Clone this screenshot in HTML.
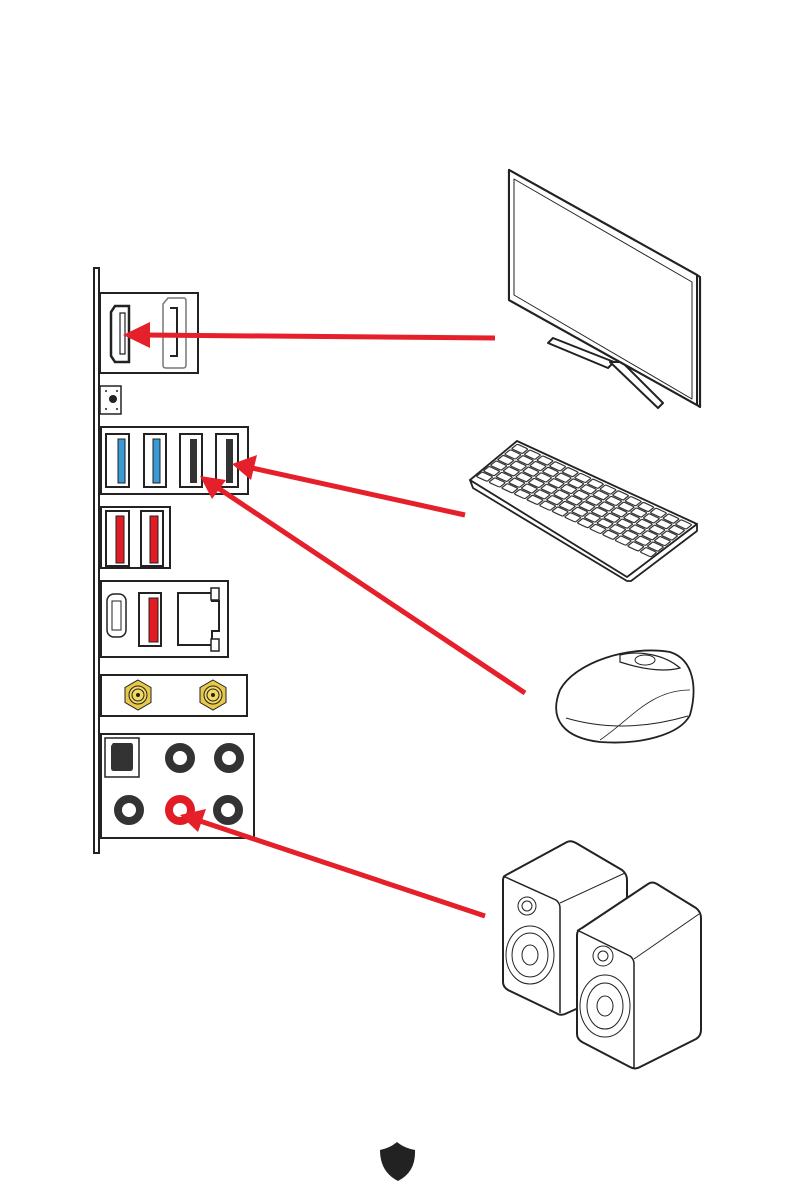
<!DOCTYPE html>
<html><head><meta charset="utf-8"><style>
html,body{margin:0;padding:0;background:#fff;width:794px;height:1191px;overflow:hidden}
svg{display:block}
</style></head><body>
<svg width="794" height="1191" viewBox="0 0 794 1191" xmlns="http://www.w3.org/2000/svg" xmlns:xlink="http://www.w3.org/1999/xlink" font-family="Liberation Sans, sans-serif">
<defs>
<rect id="k" width="6" height="12.5" rx="1.2" fill="none" stroke="#333" stroke-width="1.2" vector-effect="non-scaling-stroke"/>
<g id="row">
<use href="#k" x="1.5"/><use href="#k" x="8.5"/><use href="#k" x="15.5"/><use href="#k" x="22.5"/><use href="#k" x="29.5"/><use href="#k" x="36.5"/><use href="#k" x="43.5"/><use href="#k" x="50.5"/><use href="#k" x="57.5"/><use href="#k" x="64.5"/><use href="#k" x="71.5"/><use href="#k" x="78.5"/><use href="#k" x="85.5"/><use href="#k" x="92.5"/>
</g>
</defs>
<rect x="94" y="268" width="5" height="585" fill="#fff" stroke="#222" stroke-width="2"/>
<g fill="#fff" stroke="#222" stroke-width="2">
<rect x="100" y="293" width="98" height="80"/>
<path d="M115 306 H129 V362 H115 L111 356 V312 Z" stroke-width="2.5"/>
<path d="M120 313 H125 V354 H120 Z" stroke-width="1.2"/>
<path d="M168 298 H184 Q186 298 186 301 V365 Q186 368 183 368 H166 Q163 368 163 365 V304 Z" stroke="#777" stroke-width="1.5"/>
<path d="M170 308 H177 V356 H170" stroke-width="2"/>
<rect x="100" y="386" width="21" height="28" stroke-width="1.5"/>
<rect x="101" y="427" width="147" height="67"/>
<rect x="106" y="434" width="23" height="53"/>
<rect x="144" y="434" width="22" height="53"/>
<rect x="180" y="434" width="22" height="53"/>
<rect x="216" y="434" width="22" height="53"/>
<rect x="101" y="507" width="69" height="61"/>
<rect x="106" y="511" width="23" height="55"/>
<rect x="141" y="511" width="22" height="55"/>
<rect x="101" y="581" width="127" height="76"/>
<rect x="107" y="594" width="19" height="43" rx="7" stroke-width="1.5"/>
<rect x="112" y="601" width="9" height="29" stroke-width="1"/>
<rect x="139" y="593" width="22" height="53"/>
<path d="M178 593 H212 V601 H219 V631 H212 V645 H178 Z"/>
<rect x="211" y="588" width="8" height="12" stroke-width="1.5"/>
<rect x="211" y="639" width="8" height="12" stroke-width="1.5"/>
<rect x="101" y="675" width="146" height="41"/>
<rect x="101" y="734" width="153" height="104"/>
<rect x="105" y="738" width="34" height="39" stroke-width="1.5"/>
</g>
<circle cx="113" cy="399" r="4" fill="#222"/>
<g fill="#222"><circle cx="106" cy="391" r="1"/><circle cx="117" cy="391" r="1"/><circle cx="106" cy="409" r="1"/><circle cx="117" cy="409" r="1"/></g>
<g fill="#3a9ad6" stroke="#222" stroke-width="1"><rect x="118" y="439" width="7" height="44"/><rect x="153" y="439" width="7" height="44"/></g>
<g fill="#333"><rect x="190" y="439" width="7" height="44"/><rect x="226" y="439" width="7" height="44"/></g>
<g fill="#e21b24" stroke="#222" stroke-width="1"><rect x="116" y="516" width="8" height="47"/><rect x="150" y="516" width="8" height="47"/><rect x="149" y="598" width="9" height="44"/></g>
<g stroke="#222" stroke-width="1">
<polygon points="138,680 151,687.5 151,702.5 138,710 125,702.5 125,687.5" fill="#e8c84a"/>
<circle cx="138" cy="695" r="9" fill="#f2d860"/><circle cx="138" cy="695" r="6" fill="#f2d860"/><circle cx="138" cy="695" r="1.5" fill="#222"/>
<polygon points="213,680 226,687.5 226,702.5 213,710 200,702.5 200,687.5" fill="#e8c84a"/>
<circle cx="213" cy="695" r="9" fill="#f2d860"/><circle cx="213" cy="695" r="6" fill="#f2d860"/><circle cx="213" cy="695" r="1.5" fill="#222"/>
</g>
<path d="M113 743 H131 Q133 743 133 746 V768 Q133 771 130 771 H114 Q111 771 111 768 V746 Z" fill="#333"/>
<g fill="none" stroke="#333" stroke-width="8">
<circle cx="180" cy="758" r="11"/><circle cx="229" cy="758" r="11"/>
<circle cx="129" cy="810" r="11"/><circle cx="228" cy="810" r="11"/>
</g>
<circle cx="180" cy="810" r="11" fill="none" stroke="#e21b24" stroke-width="8"/>
<g stroke="#e5202a" stroke-width="5">
<line x1="495" y1="338" x2="145" y2="335"/>
<line x1="465" y1="515" x2="252" y2="468"/>
<line x1="525" y1="693" x2="218" y2="488"/>
<line x1="485" y1="916" x2="200" y2="821"/>
</g>
<g fill="#e5202a">
<polygon points="123,335 150,322 150,348"/>
<polygon points="232,464 257,455 251,480"/>
<polygon points="200,476 226,480 212,499"/>
<polygon points="180,815 206,809 198,832"/>
</g>
<g fill="#fff" stroke="#222" stroke-linejoin="round">
<polygon points="548,343 553,338 614,362 608,368" stroke-width="2"/>
<polygon points="610,362 622,362 663,403 658,408" stroke-width="2"/>
<polygon points="509,170 697,275 700,277 700,407 697,405 509,300" stroke-width="2.2"/>
<polygon points="509,170 697,275 697,405 509,300" stroke-width="2"/>
<polygon points="514,179 692,282 692,399 514,295" stroke-width="1"/>
</g>
<g stroke="#222" fill="#fff" stroke-linejoin="round">
<polygon points="470,480 473,488 627,581 631,581 697,531 697,524 627,576" stroke-width="1.8"/>
<polygon points="517,441 697,524 627,577 470,480" stroke-width="1.8"/>
</g>
<g transform="matrix(1.8,0.83,-0.47,0.37,517,441)">
<use href="#row" y="5"/><use href="#row" y="20"/><use href="#row" y="35"/><use href="#row" y="50"/><use href="#row" y="65"/><use href="#row" y="80"/>
</g>
<g fill="#fff" stroke="#222" stroke-width="1.8">
<path d="M560 690 C575 662 630 645 670 652 C695 660 697 690 690 715 C680 735 640 745 600 742 C565 738 548 720 560 690 Z"/>
<path d="M566 718 C600 728 640 730 688 716" fill="none" stroke-width="1"/>
<path d="M620 655 C640 650 665 655 680 668 C665 672 645 670 620 662 Z" stroke-width="1.2"/>
<ellipse cx="645" cy="660" rx="10" ry="5" stroke-width="1"/>
<path d="M600 740 C630 720 650 690 690 690" fill="none" stroke-width="0.8"/>
</g>
<g fill="#fff" stroke="#222" stroke-width="2" stroke-linejoin="round">
<path d="M503 880 Q503 876 508 874 L567 842 Q571 840 576 843 L622 870 Q627 874 627 880 L627 980 Q627 985 623 988 L565 1014 Q560 1016 556 1013 L508 990 Q503 987 503 982 Z"/>
<path d="M503 876 L556 900 Q560 903 560 908 V1013" fill="none" stroke-width="1.5"/>
<path d="M560 903 L625 873" fill="none" stroke-width="1"/>
<circle cx="527" cy="906" r="9" stroke-width="1"/><circle cx="527" cy="906" r="5" stroke-width="1"/>
<ellipse cx="530" cy="955" rx="24" ry="29" stroke-width="1"/><ellipse cx="530" cy="955" rx="18" ry="22" stroke-width="1"/><ellipse cx="530" cy="955" rx="8" ry="10" stroke-width="1"/>
<path d="M577 935 Q577 930 582 928 L648 884 Q652 881 657 884 L696 908 Q701 912 701 918 L701 1030 Q701 1036 696 1039 L640 1067 Q635 1070 630 1067 L582 1042 Q577 1039 577 1034 Z"/>
<path d="M577 930 L630 956 Q634 959 634 964 V1068" fill="none" stroke-width="1.5"/>
<path d="M634 959 L699 914" fill="none" stroke-width="1"/>
<circle cx="603" cy="956" r="10" stroke-width="1"/><circle cx="603" cy="956" r="5" stroke-width="1"/>
<ellipse cx="605" cy="1006" rx="25" ry="31" stroke-width="1"/><ellipse cx="605" cy="1006" rx="18" ry="23" stroke-width="1"/><ellipse cx="605" cy="1006" rx="8" ry="10" stroke-width="1"/>
</g>
<path d="M380 1150 Q390 1148 397 1142 Q404 1148 415 1150 Q416 1172 398 1181 Q380 1172 380 1150 Z" fill="#222"/>
</svg>
</body></html>
